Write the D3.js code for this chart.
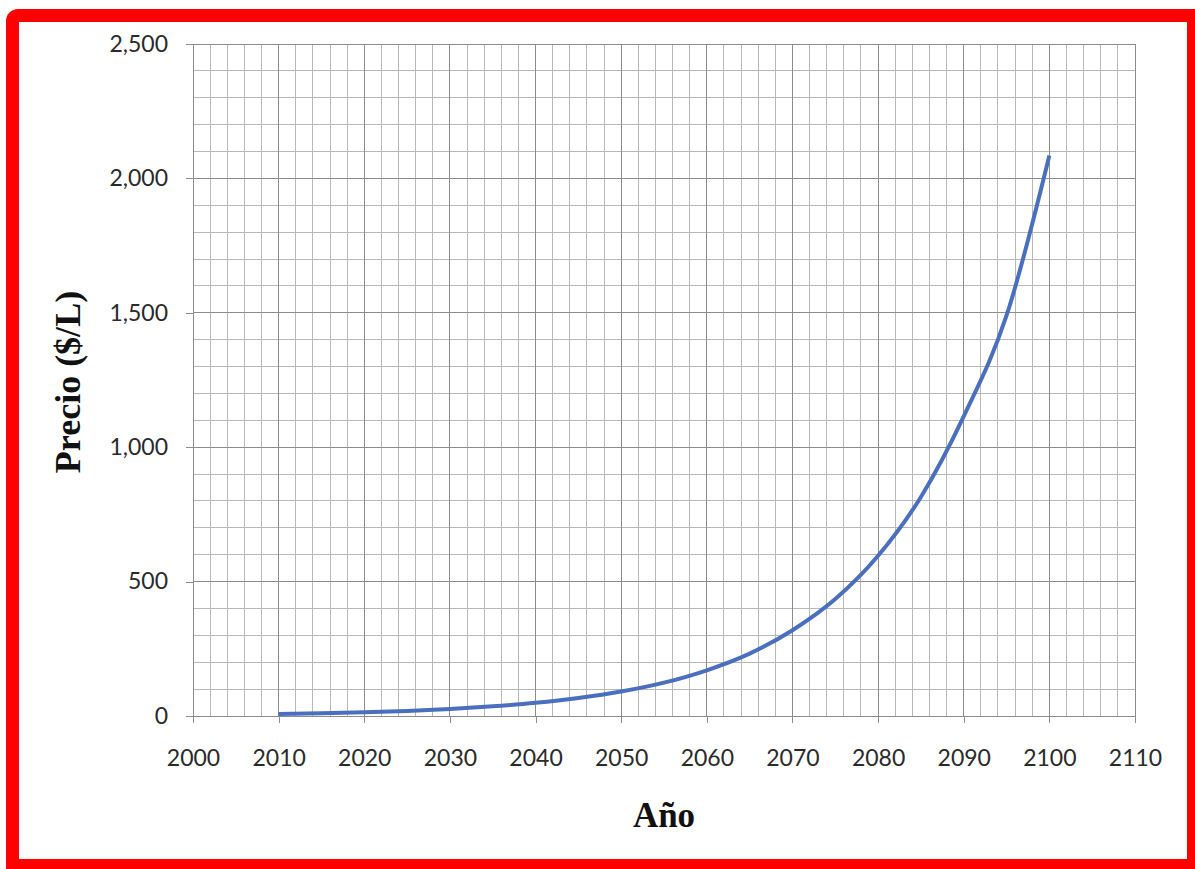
<!DOCTYPE html>
<html><head><meta charset="utf-8">
<script src="https://cdn.jsdelivr.net/npm/d3@7"></script>
<style>body{margin:0;background:#fff}svg{display:block}</style>
</head><body><svg id="c" width="1195" height="869"></svg>
<script>
const years = [2010,2015,2020,2025,2030,2035,2040,2045,2050,2055,2060,2065,2070,2075,2080,2085,2090,2095,2100];
const prices = [7,10,14,19,26,36,49,67,91,124,170,232,319,435,596,815,1115,1490,2085];
const xTicks = [2000,2010,2020,2030,2040,2050,2060,2070,2080,2090,2100,2110];
const yTicks = [0,500,1000,1500,2000,2500];
const xTitle = "Año";
const yTitle = "Precio ($/L)";

const svg = d3.select("#c");
// red frame
svg.append("rect").attr("x",6).attr("y",9).attr("width",1200).attr("height",870).attr("rx",12).attr("fill","#ff0000");
svg.append("rect").attr("x",19).attr("y",22).attr("width",1168).attr("height",837).attr("fill","#ffffff");

const L=193,R=1135,T=44,B=716;
const x=d3.scaleLinear().domain([2000,2110]).range([L,R]);
const y=d3.scaleLinear().domain([0,2500]).range([B,T]);

const g=svg.append("g");
// minor grid
g.append("g").selectAll("line").data(d3.range(2002,2110,2)).join("line")
 .attr("x1",d=>x(d)).attr("x2",d=>x(d)).attr("y1",T).attr("y2",B)
 .attr("stroke","#b8b8b8").attr("stroke-width",1).attr("shape-rendering","crispEdges");
g.append("g").selectAll("line").data(d3.range(100,2501,100)).join("line")
 .attr("x1",L).attr("x2",R).attr("y1",d=>y(d)).attr("y2",d=>y(d))
 .attr("stroke",d=>d%500===0?"#8c8c8c":"#b8b8b8").attr("stroke-width",1).attr("shape-rendering","crispEdges");
// major vertical
g.append("g").selectAll("line").data(xTicks.slice(1)).join("line")
 .attr("x1",d=>x(d)).attr("x2",d=>x(d)).attr("y1",T).attr("y2",B)
 .attr("stroke","#8c8c8c").attr("stroke-width",1).attr("shape-rendering","crispEdges");

const font="Lato, 'Open Sans', sans-serif";
const yAxis=svg.append("g").attr("transform",`translate(${L},0)`)
 .call(d3.axisLeft(y).tickValues(yTicks).tickSize(7).tickPadding(18).tickFormat(d3.format(",")));
const xAxis=svg.append("g").attr("transform",`translate(0,${B})`)
 .call(d3.axisBottom(x).tickValues(xTicks).tickSize(7).tickPadding(27).tickFormat(d3.format("d")));
[yAxis,xAxis].forEach(a=>{
 a.select(".domain").attr("stroke","#8c8c8c").attr("shape-rendering","crispEdges");
 a.selectAll(".tick line").attr("stroke","#8c8c8c").attr("shape-rendering","crispEdges");
 a.selectAll("text").attr("font-family",font).attr("font-size",23).attr("fill","#2a2a2a");
});

svg.append("path").datum(years.map((d,i)=>[d,prices[i]]))
 .attr("d",d3.line().x(d=>x(d[0])).y(d=>y(d[1])).curve(d3.curveMonotoneX))
 .attr("fill","none").attr("stroke","#4a6fbf").attr("stroke-width",4);

svg.append("text").attr("x",664).attr("y",827).attr("text-anchor","middle")
 .attr("font-family","'Liberation Serif', serif").attr("font-weight","bold").attr("font-size",35).attr("fill","#111").text(xTitle);
svg.append("text").attr("transform","translate(80,382) rotate(-90)").attr("text-anchor","middle")
 .attr("font-family","'Liberation Serif', serif").attr("font-weight","bold").attr("font-size",36).attr("fill","#111").text(yTitle);
</script></body></html>
